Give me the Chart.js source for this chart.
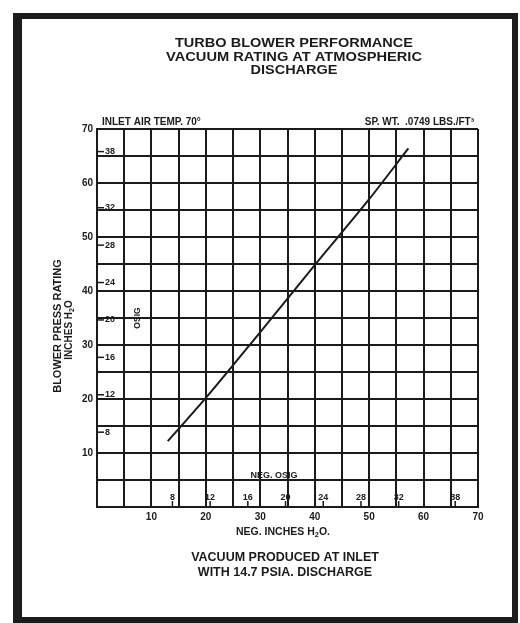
<!DOCTYPE html>
<html>
<head>
<meta charset="utf-8">
<script src="https://cdn.jsdelivr.net/npm/chart.js@4.4.1/dist/chart.umd.min.js"></script>
<style>
  html, body { margin: 0; padding: 0; background: #fff; }
  #wrap { position: relative; width: 520px; height: 623px; }
</style>
</head>
<body>
<div id="wrap"><canvas id="blowerChart" width="520" height="623"></canvas></div>
<script>
// vacuum produced (neg. inches H2O) against blower press rating (inches H2O)
const vacuumInches = [13, 20, 30, 40, 50, 57.2];
const pressRating = [12.2, 20.2, 32.4, 44.8, 57.0, 66.4];

// OSIG marks (oz. per sq. inch) printed inside the grid
const osigMarks = [8, 12, 16, 20, 24, 28, 32, 38];
const INCHES_PER_OSIG = 1.732;

const titleLines = ['TURBO BLOWER PERFORMANCE', 'VACUUM RATING AT ATMOSPHERIC', 'DISCHARGE'];
const footLines = ['VACUUM PRODUCED AT INLET', 'WITH 14.7 PSIA. DISCHARGE'];

const INK = '#1b1b1b';
const FONT = '"Liberation Sans", Arial, sans-serif';

// text with a subscript part, parts = [[text, isSub], ...]
function drawParts(ctx, parts, cx, y, size) {
    const widths = parts.map(p => {
        ctx.font = 'bold ' + (p[1] ? size * 0.7 : size) + 'px ' + FONT;
        return ctx.measureText(p[0]).width;
    });
    let x = cx - widths.reduce((a, b) => a + b, 0) / 2;
    ctx.textAlign = 'left';
    parts.forEach((p, i) => {
        ctx.font = 'bold ' + (p[1] ? size * 0.7 : size) + 'px ' + FONT;
        ctx.fillText(p[0], x, p[1] ? y + size * 0.3 : y);
        x += widths[i];
    });
}

// centred text squeezed/stretched to a given width (the print is a condensed face)
function drawFitted(ctx, text, cx, y, size, width) {
    ctx.save();
    ctx.font = 'bold ' + size + 'px ' + FONT;
    ctx.textAlign = 'center';
    const k = width / ctx.measureText(text).width;
    ctx.translate(cx, y);
    ctx.scale(k, 1);
    ctx.fillText(text, 0, 0);
    ctx.restore();
}

const sheetPlugin = {
    id: 'sheet',
    beforeDraw(chart) {
        const ctx = chart.ctx;
        ctx.save();
        ctx.fillStyle = '#fff';
        ctx.fillRect(0, 0, chart.width, chart.height);
        ctx.restore();
    },
    afterDraw(chart) {
        const ctx = chart.ctx;
        const xs = chart.scales.x, ys = chart.scales.y;
        const area = chart.chartArea;
        ctx.save();
        ctx.fillStyle = INK;
        ctx.strokeStyle = INK;

        // heavy frame round the sheet
        ctx.fillRect(13, 13, 9, 610);
        ctx.fillRect(13, 13, 505, 6);
        ctx.fillRect(512, 13, 6, 610);
        ctx.fillRect(13, 617, 505, 6);

        // title
        ctx.textBaseline = 'alphabetic';
        const titleW = [238, 256, 87];
        titleLines.forEach((t, i) => drawFitted(ctx, t, 294, 47 + i * 13.5, 13, titleW[i]));

        // notes above the grid
        ctx.font = 'bold 10px ' + FONT;
        ctx.textAlign = 'left';
        ctx.fillText('INLET AIR TEMP. 70\u00b0', 102, 125);
        ctx.textAlign = 'right';
        ctx.fillText('SP. WT.  .0749 LBS./FT\u00b3', 474, 125);

        // OSIG marks on the left edge
        ctx.lineWidth = 1.5;
        ctx.textAlign = 'left';
        ctx.textBaseline = 'middle';
        ctx.font = 'bold 9px ' + FONT;
        osigMarks.forEach(m => {
            const py = ys.getPixelForValue(m * INCHES_PER_OSIG);
            ctx.beginPath();
            ctx.moveTo(area.left, py);
            ctx.lineTo(area.left + 7, py);
            ctx.stroke();
            ctx.fillText(String(m), area.left + 8, py);
        });

        // OSIG marks along the bottom edge
        ctx.textAlign = 'center';
        ctx.textBaseline = 'alphabetic';
        osigMarks.forEach(m => {
            const px = xs.getPixelForValue(m * INCHES_PER_OSIG);
            ctx.beginPath();
            ctx.moveTo(px, area.bottom);
            ctx.lineTo(px, area.bottom - 6);
            ctx.stroke();
            ctx.fillText(String(m), px, area.bottom - 7);
        });
        ctx.fillText('NEG. OSIG', xs.getPixelForValue(32.5), ys.getPixelForValue(5) - 2);

        // rotated OSIG label
        ctx.save();
        ctx.translate(xs.getPixelForValue(7.4), ys.getPixelForValue(35));
        ctx.rotate(-Math.PI / 2);
        ctx.textBaseline = 'middle';
        ctx.font = 'bold 8.5px ' + FONT;
        ctx.fillText('OSIG', 0, 0);
        ctx.restore();

        // y axis title
        ctx.save();
        ctx.translate(58, 326);
        ctx.rotate(-Math.PI / 2);
        ctx.textBaseline = 'middle';
        ctx.font = 'bold 11px ' + FONT;
        ctx.fillText('BLOWER PRESS RATING', 0, 0);
        drawParts(ctx, [['INCHES H', false], ['2', true], ['O', false]], -4, 11, 10);
        ctx.restore();

        // x axis title and caption
        ctx.textBaseline = 'middle';
        drawParts(ctx, [['NEG. INCHES H', false], ['2', true], ['O.', false]], 283, 532, 10.5);
        ctx.textAlign = 'center';
        ctx.font = 'bold 12.5px ' + FONT;
        footLines.forEach((t, i) => ctx.fillText(t, 285, 558 + i * 15));

        ctx.restore();
    }
};

const tickLabel = v => (v % 10 === 0 && v !== 0) ? v : '';

new Chart(document.getElementById('blowerChart'), {
    type: 'line',
    data: {
        datasets: [{
            data: vacuumInches.map((v, i) => ({ x: v, y: pressRating[i] })),
            borderColor: INK,
            borderWidth: 2,
            pointRadius: 0,
            cubicInterpolationMode: 'monotone',
            fill: false
        }]
    },
    options: {
        responsive: false,
        animation: false,
        layout: { padding: { left: 67, top: 129, right: 42, bottom: 92 } },
        plugins: {
            legend: { display: false },
            title: { display: false },
            tooltip: { enabled: false }
        },
        scales: {
            x: {
                type: 'linear',
                min: 0,
                max: 70,
                afterFit: s => { s.height = 24; },
                grid: { color: INK, lineWidth: 2, drawTicks: false },
                border: { color: INK, width: 2 },
                ticks: {
                    stepSize: 5,
                    autoSkip: false,
                    maxRotation: 0,
                    padding: 4,
                    color: INK,
                    font: { family: FONT, size: 10, weight: 'bold' },
                    callback: tickLabel
                }
            },
            y: {
                type: 'linear',
                min: 0,
                max: 70,
                afterFit: s => { s.width = 30; },
                grid: { color: INK, lineWidth: 2, drawTicks: false },
                border: { color: INK, width: 2 },
                ticks: {
                    stepSize: 5,
                    autoSkip: false,
                    padding: 4,
                    color: INK,
                    font: { family: FONT, size: 10, weight: 'bold' },
                    callback: tickLabel
                }
            }
        }
    },
    plugins: [sheetPlugin]
});
</script>
</body>
</html>
